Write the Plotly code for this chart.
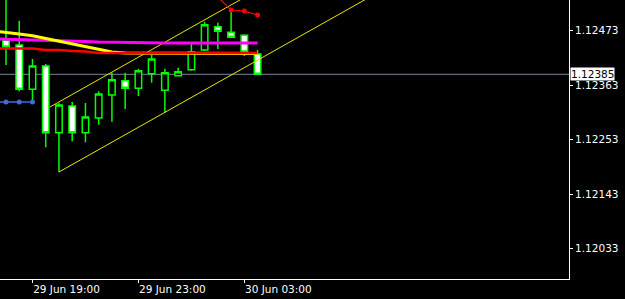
import plotly.graph_objects as go

# ---- data ----
times = ["29 Jun 18:00", "29 Jun 18:30", "29 Jun 19:00", "29 Jun 19:30", "29 Jun 20:00",
         "29 Jun 20:30", "29 Jun 21:00", "29 Jun 21:30", "29 Jun 22:00", "29 Jun 22:30",
         "29 Jun 23:00", "29 Jun 23:30", "30 Jun 00:00", "30 Jun 00:30", "30 Jun 01:00",
         "30 Jun 01:30", "30 Jun 02:00", "30 Jun 02:30", "30 Jun 03:00", "30 Jun 03:30"]
opens  = [1.12454, 1.12444, 1.12355, 1.12402, 1.12267, 1.12321, 1.12267, 1.12297, 1.12343, 1.12372,
          1.12357, 1.12386, 1.12353, 1.12382, 1.12394, 1.12434, 1.12481, 1.12470, 1.12464, 1.12426]
highs  = [1.12545, 1.12493, 1.12416, 1.12406, 1.12327, 1.12329, 1.12327, 1.12351, 1.12388, 1.12388,
          1.12396, 1.12424, 1.12396, 1.12398, 1.12446, 1.12491, 1.12489, 1.12515, 1.12466, 1.12434]
lows   = [1.12404, 1.12351, 1.12333, 1.12238, 1.12188, 1.12250, 1.12248, 1.12283, 1.12289, 1.12315,
          1.12341, 1.12368, 1.12307, 1.12382, 1.12392, 1.12432, 1.12436, 1.12460, 1.12422, 1.12385]
closes = [1.12440, 1.12355, 1.12402, 1.12267, 1.12323, 1.12267, 1.12299, 1.12345, 1.12374, 1.12357,
          1.12392, 1.12416, 1.12388, 1.12390, 1.12430, 1.12485, 1.12472, 1.12460, 1.12430, 1.12385]

# moving averages (bar index -1 .. 19)
ma_idx = list(range(-1, 20))
ma_yellow = [1.124724, 1.124698, 1.124664, 1.124627, 1.124573, 1.124522, 1.124472, 1.124411,
             1.124351, 1.124300, 1.124280, 1.124274, 1.124274, 1.124274, 1.124274, 1.124274,
             1.124274, 1.124274, 1.124274, 1.124274, 1.124270]
ma_magenta = [1.124569, 1.124563, 1.124553, 1.124543, 1.124537, 1.124531, 1.124522, 1.124512,
              1.124502, 1.124496, 1.124492, 1.124488, 1.124482, 1.124482, 1.124482, 1.124482,
              1.124482, 1.124482, 1.124482, 1.124482, 1.124482]
ma_red = [1.124371, 1.124371, 1.124371, 1.124371, 1.124341, 1.124341, 1.124321, 1.124311,
          1.124280, 1.124280, 1.124270, 1.124270, 1.124280, 1.124280, 1.124280, 1.124280,
          1.124280, 1.124280, 1.124280, 1.124280, 1.124280]

# blue level line with dots
blue_idx = [-1, 0, 1, 2]
blue_vals = [1.123291, 1.123291, 1.123291, 1.123291]

# red dotted indicator
red_idx = [16, 17, 18, 19]
red_vals = [1.12541, 1.125148, 1.125128, 1.125047]

# channel (start bar, end bar, prices)
chan_x_upper = [3.32, 42.6]
chan_upper = [1.123190, 1.129107]
chan_x_lower = [4.0, 42.6]
chan_lower = [1.121878, 1.127687]

bid = 1.12385
ytick_vals = [1.12473, 1.12363, 1.12253, 1.12143, 1.12033]
xtick_idx = [2, 10, 18]
xtick_text = [times[i] for i in xtick_idx]

FONT = "DejaVu Sans"
idx = list(range(len(times)))

fig = go.Figure()
fig.add_trace(go.Candlestick(
    x=idx, open=opens, high=highs, low=lows, close=closes,
    increasing=dict(line=dict(color="#00ff00", width=1.5), fillcolor="#000000"),
    decreasing=dict(line=dict(color="#00ff00", width=1.5), fillcolor="#ffffff"),
    hoverinfo="skip", showlegend=False))

for xs, ys in [(chan_x_upper, chan_upper), (chan_x_lower, chan_lower)]:
    fig.add_trace(go.Scatter(x=xs, y=ys, mode="lines",
                             line=dict(color="#e8e800", width=1), hoverinfo="skip", showlegend=False))

fig.add_trace(go.Scatter(x=ma_idx, y=ma_magenta, mode="lines",
                         line=dict(color="#ff00ff", width=3), hoverinfo="skip", showlegend=False))
fig.add_trace(go.Scatter(x=ma_idx, y=ma_yellow, mode="lines",
                         line=dict(color="#ffff00", width=3), hoverinfo="skip", showlegend=False))
fig.add_trace(go.Scatter(x=ma_idx, y=ma_red, mode="lines",
                         line=dict(color="#ff0000", width=2.5), hoverinfo="skip", showlegend=False))

fig.add_trace(go.Scatter(x=blue_idx, y=blue_vals, mode="lines+markers",
                         line=dict(color="#4169e1", width=1.5),
                         marker=dict(color="#4169e1", size=5),
                         hoverinfo="skip", showlegend=False, cliponaxis=True))
fig.add_trace(go.Scatter(x=red_idx, y=red_vals, mode="lines+markers",
                         line=dict(color="#ff0000", width=1.2),
                         marker=dict(color="#ff0000", size=5),
                         hoverinfo="skip", showlegend=False, cliponaxis=True))

fig.add_shape(type="line", xref="paper", x0=0, x1=1, yref="y", y0=bid, y1=bid,
              line=dict(color="#778899", width=1), layer="below")

fig.add_annotation(xref="paper", x=1, xanchor="left", xshift=1, yref="y", y=bid,
                   text=f"{bid:.5f}", showarrow=False, bgcolor="#ffffff", borderpad=0,
                   font=dict(family=FONT, size=10.5, color="#000000"))

fig.update_layout(
    width=625, height=299,
    margin=dict(l=0, r=56, t=0, b=20),
    paper_bgcolor="#000000", plot_bgcolor="#000000",
    showlegend=False,
    xaxis=dict(range=[-0.453, 42.52], showgrid=False, zeroline=False,
               showline=True, linecolor="#ffffff", linewidth=1,
               ticks="outside", ticklen=3, tickcolor="#ffffff",
               tickvals=xtick_idx, ticktext=xtick_text, ticklabelshift=34,
               ticklabelstandoff=-3,
               tickfont=dict(family=FONT, size=10.5, color="#ffffff"),
               rangeslider=dict(visible=False), fixedrange=True),
    yaxis=dict(side="right", range=[1.119718, 1.12535], showgrid=False, zeroline=False,
               showline=True, linecolor="#ffffff", linewidth=1,
               ticks="outside", ticklen=3, tickcolor="#ffffff",
               tickvals=ytick_vals, ticktext=[f"{v:.5f}" for v in ytick_vals],
               tickfont=dict(family=FONT, size=10.5, color="#ffffff"), fixedrange=True),
)

fig.write_html("out.html")
